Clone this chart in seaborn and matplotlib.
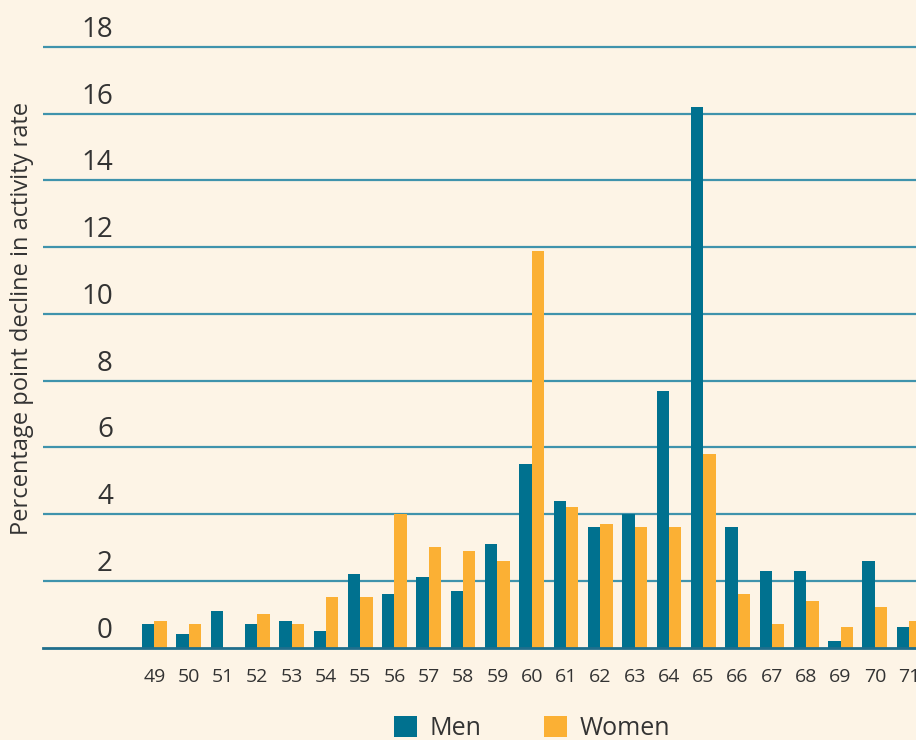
import pandas as pd
import numpy as np
import matplotlib
matplotlib.use("Agg")
import matplotlib.pyplot as plt
import matplotlib.transforms as mtransforms
import seaborn as sns

ages = [str(a) for a in range(49, 72)]
men = [0.7, 0.4, 1.1, 0.7, 0.8, 0.5, 2.2, 1.6, 2.1, 1.7, 3.1, 5.5,
       4.4, 3.6, 4.0, 7.7, 16.2, 3.6, 2.3, 2.3, 0.2, 2.6, 0.6]
women = [0.8, 0.7, 0.0, 1.0, 0.7, 1.5, 1.5, 4.0, 3.0, 2.9, 2.6, 11.9,
         4.2, 3.7, 3.6, 3.6, 5.8, 1.6, 0.7, 1.4, 0.6, 1.2, 0.8]
series = ["Men", "Women"]
yticks = [0, 2, 4, 6, 8, 10, 12, 14, 16, 18]

bg = "#FDF4E6"
men_col = "#00718F"
women_col = "#FBB034"
grid_col = "#3F93AC"
text_col = "#333333"

df = pd.DataFrame({
    "age": ages * 2,
    "value": men + women,
    "sex": [series[0]] * len(ages) + [series[1]] * len(ages),
})

sns.set_theme(style="white")
plt.rcParams["font.family"] = ["Open Sans", "DejaVu Sans"]
plt.rcParams["text.color"] = text_col

fig = plt.figure(figsize=(9.16, 7.40), dpi=100)
fig.patch.set_facecolor(bg)
H = 740
W = 916
ax = fig.add_axes([43 / W, 1 - 647.5 / H, (W - 43) / W, (647.5 - 37) / H])
ax.set_facecolor(bg)

sns.barplot(data=df, x="age", y="value", hue="sex", palette=[men_col, women_col],
            width=0.72, saturation=1, linewidth=0, ax=ax, order=ages, hue_order=series)

ax.set_xlim(-3.245, 22.2)
ax.set_ylim(0, 18.3)
ax.set_yticks(yticks[1:])
ax.set_yticklabels([])
ax.yaxis.grid(True, color=grid_col, linewidth=1.6)
ax.set_axisbelow(True)
for s in ["top", "right", "left"]:
    ax.spines[s].set_visible(False)
ax.spines["bottom"].set_color("#1F6E8C")
ax.spines["bottom"].set_linewidth(2)
ax.tick_params(axis="both", length=0)
ax.tick_params(axis="x", labelsize=14, pad=15, labelcolor=text_col)
ax.set_xlabel("")
ax.set_ylabel("")

# y tick labels sit above their gridlines
off = mtransforms.ScaledTranslation(0, 10 / 100, fig.dpi_scale_trans)
for v in yticks:
    ax.text((113 - 43) / (W - 43), v, str(v), ha="right", va="baseline",
            fontsize=20, color=text_col,
            transform=ax.get_yaxis_transform() + off)

fig.text(22 / W, 1 - 318 / H, "Percentage point decline in activity rate",
         rotation=90, ha="center", va="center", fontsize=17, color=text_col)

handles, labels = ax.get_legend_handles_labels()
ax.get_legend().remove()
fig.legend(handles, labels, loc="center left", bbox_to_anchor=(394 / W, 1 - 728.5 / H),
           ncol=2, frameon=False, fontsize=18, handlelength=0.92, handleheight=0.92,
           handletextpad=0.5, columnspacing=2.5, borderpad=0, borderaxespad=0)

fig.savefig("out.png", dpi=100, facecolor=bg)
